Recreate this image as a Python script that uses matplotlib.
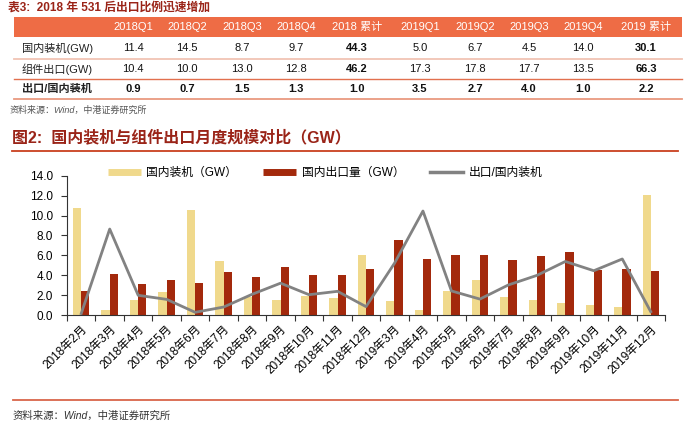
import numpy as np
import matplotlib.pyplot as plt
from matplotlib.lines import Line2D
from matplotlib.patches import Rectangle

plt.rcParams['font.family'] = ['Liberation Sans', 'Noto Sans CJK SC', 'DejaVu Sans']

# --- table data (表3) ---
tab_cols = ['2018Q1', '2018Q2', '2018Q3', '2018Q4', '2018 累计',
            '2019Q1', '2019Q2', '2019Q3', '2019Q4', '2019 累计']
tab_rows = ['国内装机(GW)', '组件出口(GW)', '出口/国内装机']
domestic_q = [11.4, 14.5, 8.7, 9.7, 44.3, 5.0, 6.7, 4.5, 14.0, 30.1]
export_q = [10.4, 10.0, 13.0, 12.8, 46.2, 17.3, 17.8, 17.7, 13.5, 66.3]
ratio_q = [0.9, 0.7, 1.5, 1.3, 1.0, 3.5, 2.7, 4.0, 1.0, 2.2]

# --- monthly data (图2) ---
months = ['2018年2月', '2018年3月', '2018年4月', '2018年5月', '2018年6月', '2018年7月',
          '2018年8月', '2018年9月', '2018年10月', '2018年11月', '2018年12月',
          '2019年3月', '2019年4月', '2019年5月', '2019年6月', '2019年7月', '2019年8月',
          '2019年9月', '2019年10月', '2019年11月', '2019年12月']
domestic_m = [10.8, 0.48, 1.5, 2.28, 10.55, 5.46, 1.85, 1.5, 1.94, 1.74, 6.0,
              1.41, 0.55, 2.44, 3.55, 1.84, 1.5, 1.2, 0.97, 0.8, 12.09]
export_m = [2.38, 4.15, 3.08, 3.52, 3.2, 4.29, 3.85, 4.82, 3.98, 4.05, 4.59,
            7.5, 5.63, 6.0, 6.0, 5.49, 5.89, 6.33, 4.49, 4.59, 4.39]
ratio_m = [0.15, 8.64, 1.98, 1.57, 0.27, 0.8, 2.08, 3.2, 2.04, 2.38, 0.84,
           5.2, 10.45, 2.42, 1.6, 3.02, 3.98, 5.38, 4.45, 5.63, 0.33]

W, H = 689, 422
fx = lambda px: px / W
fy = lambda py: 1 - py / H

fig = plt.figure(figsize=(6.89, 4.22), dpi=100)

title_col = '#9A2418'
orange = '#EE6C45'

# 表3 title
fig.text(fx(8), fy(8), '表3:  2018 年 531 后出口比例迅速增加', fontsize=8.5,
         fontweight='bold', color=title_col, va='center', ha='left')

# header band
fig.patches.append(Rectangle((fx(14), fy(37)), fx(682) - fx(14), fy(17) - fy(37),
                             transform=fig.transFigure, color=orange, lw=0))
col_x = [133, 187, 242, 296, 357, 420, 475, 529, 583, 646]
for cx, name in zip(col_x, tab_cols):
    fig.text(fx(cx), fy(27), name, fontsize=8, color='white', ha='center', va='center')

row_y = [48, 69, 89]
row_vals = [domestic_q, export_q, ratio_q]
for r, (ry, lab, vals) in enumerate(zip(row_y, tab_rows, row_vals)):
    bold_row = (r == 2)
    fig.text(fx(22), fy(ry), lab, fontsize=8, color='#222222', ha='left', va='center',
             fontweight='bold' if bold_row else 'normal')
    for c, (cx, v) in enumerate(zip(col_x, vals)):
        bold = bold_row or c in (4, 9)
        fig.text(fx(cx), fy(ry), f'{v:.1f}', fontsize=8, color='#111111',
                 ha='center', va='center', fontweight='bold' if bold else 'normal')

for ly, lc, lw in [(58.5, '#F1C4B4', 1.3), (78.5, '#E2704E', 1.0), (98.5, '#E99A80', 1.3)]:
    fig.add_artist(Line2D([fx(14), fx(682)], [fy(ly), fy(ly)], color=lc, lw=lw,
                          transform=fig.transFigure))

fig.text(fx(10), fy(110), '资料来源：Wind，中港证券研究所', fontsize=6.5, style='italic',
         color='#555555', ha='left', va='center')

# 图2 title
fig.text(fx(12), fy(137), '图2:  国内装机与组件出口月度规模对比（GW）', fontsize=11.5,
         fontweight='bold', color=title_col, ha='left', va='center')
fig.add_artist(Line2D([fx(12), fx(678)], [fy(150.5), fy(150.5)], color='#C9401F', lw=1.3,
                      transform=fig.transFigure))

# chart
ax = fig.add_axes([fx(67), fy(315), fx(665) - fx(67), fy(175.7) - fy(315)])
x = np.arange(len(months))
bw = 0.29
yellow = '#F0D98C'
red = '#A3290C'
gray = '#828282'
ax.bar(x - bw / 2, domestic_m, width=bw, color=yellow, label='国内装机（GW）')
ax.bar(x + bw / 2, export_m, width=bw, color=red, label='国内出口量（GW）')
ax.plot(x, ratio_m, color=gray, lw=2.0, label='出口/国内装机')

ax.set_xlim(-0.5, len(months) - 0.5)
ax.set_ylim(0, 14)
ax.set_yticks(np.arange(0, 15, 2))
ax.set_yticklabels([f'{v:.1f}' for v in np.arange(0, 15, 2)], fontsize=8.5)
ax.set_xticks(np.arange(-0.5, len(months), 1.0))
ax.set_xticklabels([])
ax.set_xticks(x, minor=True)
ax.set_xticklabels(months, minor=True, rotation=45, ha='right', va='top',
                   rotation_mode='anchor', fontsize=8.5)
ax.tick_params(axis='x', which='minor', length=0, pad=6)
ax.tick_params(axis='x', which='major', length=4, direction='out', color='#333333')
ax.tick_params(axis='y', length=4, direction='out', color='#333333', pad=6)
for s in ['top', 'right']:
    ax.spines[s].set_visible(False)
ax.spines['left'].set_color('#333333')
ax.spines['bottom'].set_color('#333333')

handles = [Line2D([], [], color=yellow, lw=5, solid_capstyle='butt'),
           Line2D([], [], color=red, lw=5, solid_capstyle='butt'),
           Line2D([], [], color=gray, lw=2.5)]
fig.legend(handles, ['国内装机（GW）', '国内出口量（GW）', '出口/国内装机'], ncol=3,
           loc='center left', bbox_to_anchor=(fx(108), fy(173)), frameon=False,
           fontsize=8.5, handlelength=2.8, handletextpad=0.45, columnspacing=2.2,
           borderpad=0, borderaxespad=0)

fig.add_artist(Line2D([fx(13), fx(678)], [fy(400), fy(400)], color='#D9664A', lw=1.3,
                      transform=fig.transFigure))
fig.text(fx(13), fy(416), '资料来源：Wind，中港证券研究所', fontsize=7.5, style='italic',
         color='#333333', ha='left', va='center')

fig.savefig('out.png', dpi=100)
